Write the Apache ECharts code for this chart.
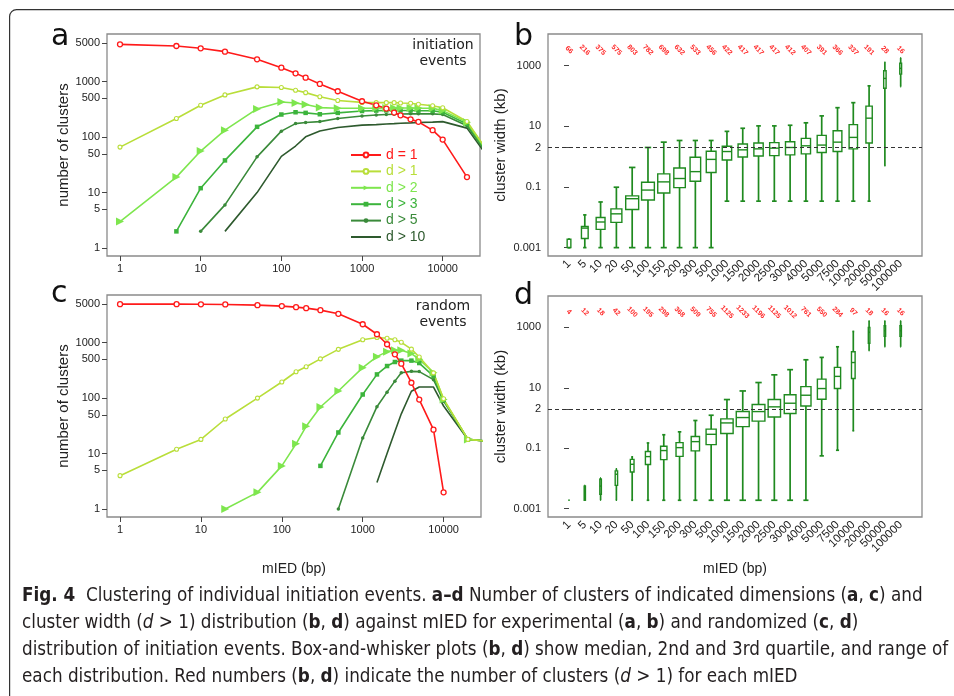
<!DOCTYPE html>
<html>
<head>
<meta charset="utf-8">
<script src="https://cdn.jsdelivr.net/npm/echarts@6/dist/echarts.min.js"></script>
<style>
html,body{margin:0;padding:0;background:#fff;}
#chart{width:954px;height:696px;}
</style>
</head>
<body>
<div id="chart"></div>
<script>
// ---------- DATA ----------
const mied = [1,5,10,20,50,100,150,200,300,500,1000,1500,2000,2500,3000,4000,5000,7500,10000,20000,50000,100000];
const miedLabels = ['1','5','10','20','50','100','150','200','300','500','1000','1500','2000','2500','3000','4000','5000','7500','10000','20000','50000','100000'];
const seriesNames = ['d = 1','d > 1','d > 2','d > 3','d > 5','d > 10'];

// panel a: experimental (initiation events)
const a_d1   = [4690,4380,3975,3460,2520,1783,1408,1178,906,669,442,374,326,276,247,209,188,133,90,19,null,null];
const a_d1p  = [66,216,375,575,803,782,698,632,533,456,422,417,417,417,412,407,391,366,337,191,28,16];
const a_d2   = [3,19,56,133,322,430,412,385,340,331,331,333,335,335,335,335,333,330,300,185,27,16];
const a_d3   = [null,2,12,38,153,255,280,273,258,273,295,300,302,302,302,302,300,298,280,172,26,15];
const a_d5   = [null,null,2,6,44,128,175,183,190,216,240,250,255,258,260,262,262,262,255,160,25,15];
const a_d10  = [null,null,null,2,10,45,69,101,129,149,164,168,172,175,178,180,183,186,190,145,23,14];

// panel c: randomized events
const c_d1   = [4930,4930,4900,4860,4730,4540,4350,4170,3840,3300,2140,1413,933,615,417,189,94,27,2,null,null,null];
const c_d1p  = [4,12,18,42,100,195,298,368,509,755,1125,1233,1196,1125,1012,761,550,284,97,18,16,16];
const c_d2   = [null,null,null,1,2,6,15,31,69,134,353,558,687,726,726,633,499,287,94,18,16,16];
const c_d3   = [null,null,null,null,null,null,null,null,6,24,116,267,378,447,473,473,428,249,92,18,16,16];
const c_d5   = [null,null,null,null,null,null,null,null,null,1,19,70,128,202,287,303,300,215,88,18,16,16];
const c_d10  = [null,null,null,null,null,null,null,null,null,null,null,3,10,25,52,133,158,158,72,18,16,16];

// panel b: cluster width (kb), experimental; counts (red numbers)
const b_counts = [66,216,375,575,803,782,698,632,533,456,422,417,417,417,412,407,391,366,337,191,28,16];
const b_min = [0.001,0.001,0.001,0.001,0.001,0.001,0.001,0.001,0.001,0.001,0.034,0.034,0.034,0.034,0.034,0.034,0.034,0.034,0.034,0.034,0.5,204];
const b_q1  = [0.001,0.002,0.004,0.0068,0.018,0.037,0.063,0.095,0.155,0.3,0.77,0.97,1.05,1.08,1.14,1.23,1.36,1.47,1.8,2.8,180,525];
const b_med = [0.001,0.0044,0.007,0.013,0.041,0.079,0.147,0.19,0.32,0.81,1.47,1.67,1.8,1.9,2.0,2.27,2.4,3.0,4.3,18.5,378,810];
const b_q3  = [0.0019,0.005,0.0098,0.019,0.051,0.143,0.27,0.42,0.95,1.5,2.2,2.6,2.8,2.9,3.1,4.0,5.0,7.1,11.3,46,680,1190];
const b_max = [0.0019,0.012,0.032,0.098,0.44,2.0,3.0,3.4,3.4,3.4,6.8,8.6,10.3,10.3,10.8,13,22,41,60,215,1290,1790];

// panel d: cluster width (kb), randomized; counts (red numbers)
const d_counts = [4,12,18,42,100,195,298,368,509,755,1125,1233,1196,1125,1012,761,550,284,97,18,16,16];
const d_min = [0.0019,0.0019,0.0019,0.0019,0.0019,0.0019,0.0019,0.0019,0.0019,0.0019,0.0019,0.0019,0.0019,0.0019,0.0019,0.0019,0.056,0.086,0.38,170,229,229];
const d_q1  = [0.0019,0.0019,0.003,0.0059,0.0164,0.029,0.042,0.054,0.082,0.132,0.31,0.52,0.79,1.09,1.41,2.5,4.2,9.5,20.4,300,507,507];
const d_med = [0.0019,0.0035,0.0056,0.0138,0.0295,0.053,0.084,0.105,0.166,0.29,0.69,1.04,1.64,2.35,3.1,5.7,9.5,24,69,690,775,775];
const d_q3  = [0.0019,0.0056,0.0094,0.0178,0.043,0.078,0.116,0.154,0.244,0.43,0.94,1.64,2.8,4.1,5.9,11,19.5,47.5,156,1000,1140,1140];
const d_max = [0.0019,0.0059,0.0104,0.021,0.052,0.15,0.28,0.35,0.83,1.24,4.1,7.9,15,27,40,85,102,229,740,1660,1660,1660];

// tick labels
const countTicks = [1,5,10,50,100,500,1000,5000];
const miedTicks  = [1,10,100,1000,10000];
const widthTicks = [0.001,0.1,2,10,1000];
const widthRef   = 2;

// ---------- STYLE ----------
const COLORS = ['#ff1a1a','#b9de3a','#7ee64e','#3cb43c','#3a8a3a','#2e5a2e'];
const GREEN = '#1f8a1f';
const FONT = "'Liberation Sans', Arial, sans-serif";
const TXT = '#222';

const chart = echarts.init(document.getElementById('chart'), null, {renderer:'canvas'});

function pairs(vals){
  return mied.map((x,i)=>[x, vals[i]]).filter(p=>p[1]!=null);
}
const symDefs = [
  {symbol:'circle', symbolSize:5, item:{color:'#fff', borderColor:COLORS[0], borderWidth:1.3}},
  {symbol:'circle', symbolSize:4, item:{color:'#fff', borderColor:COLORS[1], borderWidth:1.1}},
  {symbol:'triangle', symbolSize:8, rotate:-90, item:{color:COLORS[2]}},
  {symbol:'rect', symbolSize:4.5, item:{color:COLORS[3]}},
  {symbol:'circle', symbolSize:3.5, item:{color:COLORS[4]}},
  {symbol:'none', symbolSize:0, item:{color:COLORS[5]}}
];
function lineSeries(valsList, xi, yi){
  const order = [5,4,3,2,1,0];
  return order.map(k=>({
    type:'line', name:seriesNames[k], xAxisIndex:xi, yAxisIndex:yi,
    data:pairs(valsList[k]),
    symbol:symDefs[k].symbol, symbolSize:symDefs[k].symbolSize,
    symbolRotate:symDefs[k].rotate||0, showAllSymbol:true,
    lineStyle:{color:COLORS[k], width:1.6},
    itemStyle:symDefs[k].item,
    emphasis:{disabled:true}, animation:false, clip:true, z:3
  }));
}
function boxData(mn,q1,md,q3,mx,cnt){
  return mn.map((v,i)=>[i, v, q1[i], md[i], q3[i], mx[i], cnt[i]]);
}
function boxRender(nMax){
  return function(params, api){
    const i = api.value(0);
    const pLo = api.coord([i, api.value(1)]);
    const pQ1 = api.coord([i, api.value(2)]);
    const pMd = api.coord([i, api.value(3)]);
    const pQ3 = api.coord([i, api.value(4)]);
    const pHi = api.coord([i, api.value(5)]);
    const n = api.value(6);
    const step = api.coord([i+1, api.value(3)])[0] - pMd[0];
    const w = step*0.82*Math.sqrt(n/nMax);
    const x = pMd[0];
    const ws = {stroke:GREEN, lineWidth:1.7, fill:null};
    const bs = {stroke:GREEN, lineWidth:1.4, fill:'transparent'};
    return {type:'group', children:[
      {type:'line', shape:{x1:x,y1:pLo[1],x2:x,y2:pQ1[1]}, style:ws},
      {type:'line', shape:{x1:x,y1:pQ3[1],x2:x,y2:pHi[1]}, style:ws},
      {type:'line', shape:{x1:x-w/4,y1:pLo[1],x2:x+w/4,y2:pLo[1]}, style:ws},
      {type:'line', shape:{x1:x-w/4,y1:pHi[1],x2:x+w/4,y2:pHi[1]}, style:ws},
      {type:'rect', shape:{x:x-w/2,y:pQ3[1],width:w,height:pQ1[1]-pQ3[1]}, style:bs},
      {type:'line', shape:{x1:x-w/2,y1:pMd[1],x2:x+w/2,y2:pMd[1]}, style:bs}
    ]};
  };
}
const idxTicks = miedLabels.map((_,i)=>i);
// an extra, label-less slot after the last category keeps every real label visible
const idxTicksPadded = idxTicks.concat([miedLabels.length]);
const fmtNum = v => String(+(+v).toPrecision(6));

function logCountY(grid){
  return {type:'log', gridIndex:grid, logBase:10, min:0.72, max:7200,
    axisLine:{show:false}, splitLine:{show:false},
    axisTick:{show:true, length:5, customValues:countTicks, lineStyle:{color:'#444'}},
    axisLabel:{customValues:countTicks, formatter:fmtNum, fontSize:11, color:TXT, margin:7, fontFamily:FONT,
      showMinLabel:true, showMaxLabel:true},
    name:'number of clusters', nameLocation:'middle', nameGap:34,
    nameTextStyle:{fontSize:15, color:TXT, fontFamily:FONT}};
}
function logMiedX(grid, name){
  return {type:'log', gridIndex:grid, logBase:10, min:0.69, max:29000, position:'bottom',
    axisLine:{show:false}, splitLine:{show:false},
    axisTick:{show:true, length:5, customValues:miedTicks, lineStyle:{color:'#444'}},
    axisLabel:{customValues:miedTicks, formatter:fmtNum, fontSize:11, color:TXT, margin:7, fontFamily:FONT,
      showMinLabel:true, showMaxLabel:true},
    name:name, nameLocation:'middle', nameGap:45,
    nameTextStyle:{fontSize:14, color:TXT, fontFamily:FONT}};
}
function widthY(grid){
  return {type:'log', gridIndex:grid, logBase:10, min:0.00053, max:11000,
    axisLine:{show:false}, splitLine:{show:false},
    axisTick:{show:true, length:5, customValues:widthTicks, lineStyle:{color:'#444'}},
    axisLabel:{customValues:widthTicks, formatter:fmtNum, fontSize:11, color:TXT, margin:7, fontFamily:FONT,
      showMinLabel:true, showMaxLabel:true},
    name:'cluster width (kb)', nameLocation:'middle', nameGap:40,
    nameTextStyle:{fontSize:15, color:TXT, fontFamily:FONT}};
}
function catX(grid, name){
  return {type:'value', gridIndex:grid, min:-1.33, max:22.35, position:'bottom',
    axisLine:{show:false}, splitLine:{show:false}, axisTick:{show:false},
    axisLabel:{customValues:idxTicksPadded, formatter:v=>(miedLabels[Math.round(v)]||''), rotate:45,
      fontSize:11.5, color:TXT, margin:6, fontFamily:FONT, showMinLabel:true, showMaxLabel:false, hideOverlap:false},
    name:name, nameLocation:'middle', nameGap:45, nameMoveOverlap:false,
    nameTextStyle:{fontSize:14, color:TXT, fontFamily:FONT}};
}
function countX(grid, counts){
  return {type:'value', gridIndex:grid, min:-1.33, max:22.35, position:'top',
    axisLine:{show:false}, splitLine:{show:false}, axisTick:{show:false},
    axisLabel:{customValues:idxTicks, formatter:v=>String(counts[Math.round(v)]), rotate:45,
      inside:true, margin:16, align:'center', verticalAlign:'middle',
      showMinLabel:true, showMaxLabel:true, hideOverlap:false,
      fontSize:7, fontWeight:'bold', color:'#ff2a2a', fontFamily:FONT}};
}
const gridStyle = {show:true, borderColor:'#8a8a8a', borderWidth:1.3, backgroundColor:'transparent'};

const caption = [
  '{b|Fig. 4}  Clustering of individual initiation events. {b|a–d} Number of clusters of indicated dimensions ({b|a}, {b|c}) and',
  'cluster width ({i|d} > 1) distribution ({b|b}, {b|d}) against mIED for experimental ({b|a}, {b|b}) and randomized ({b|c}, {b|d})',
  'distribution of initiation events. Box-and-whisker plots ({b|b}, {b|d}) show median, 2nd and 3rd quartile, and range of',
  'each distribution. Red numbers ({b|b}, {b|d}) indicate the number of clusters ({i|d} > 1) for each mIED'
];
const CAPFONT = "'Liberation Sans Narrow', 'DejaVu Sans Condensed', 'Roboto Condensed', 'Liberation Sans', sans-serif";
const CAPSIZE = 18.7;

const option = {
  animation:false,
  backgroundColor:'#fff',
  textStyle:{fontFamily:FONT},
  grid:[
    Object.assign({left:107, top:34, width:373, height:222}, gridStyle),
    Object.assign({left:548, top:34, width:374, height:222}, gridStyle),
    Object.assign({left:107, top:295, width:374, height:222}, gridStyle),
    Object.assign({left:548, top:296, width:374, height:221}, gridStyle)
  ],
  xAxis:[
    logMiedX(0, ''),
    catX(1, ''),
    countX(1, b_counts),
    logMiedX(2, 'mIED (bp)'),
    catX(3, 'mIED (bp)'),
    countX(3, d_counts)
  ],
  yAxis:[ logCountY(0), widthY(1), logCountY(2), widthY(3) ],
  legend:{
    left:345, top:143, orient:'vertical', itemWidth:30, itemHeight:6, itemGap:2.4,
    selectedMode:false,
    data:seriesNames.map((n,k)=>{
      const d = {name:n, textStyle:{color:COLORS[k], fontSize:14, fontFamily:FONT}};
      if (k===5) d.itemStyle = {opacity:0};
      return d;
    })
  },
  series:[
    ...lineSeries([a_d1,a_d1p,a_d2,a_d3,a_d5,a_d10], 0, 0),
    ...lineSeries([c_d1,c_d1p,c_d2,c_d3,c_d5,c_d10], 3, 2),
    {type:'custom', xAxisIndex:1, yAxisIndex:1, renderItem:boxRender(Math.max(...b_counts)),
      data:boxData(b_min,b_q1,b_med,b_q3,b_max,b_counts), encode:{x:0, y:[1,2,3,4,5]},
      clip:true, silent:true, z:3,
      markLine:{symbol:'none', silent:true, label:{show:false}, animation:false,
        lineStyle:{type:[4,3], color:'#333', width:1.2}, data:[{yAxis:widthRef}]}},
    {type:'custom', xAxisIndex:4, yAxisIndex:3, renderItem:boxRender(Math.max(...d_counts)),
      data:boxData(d_min,d_q1,d_med,d_q3,d_max,d_counts), encode:{x:0, y:[1,2,3,4,5]},
      clip:true, silent:true, z:3,
      markLine:{symbol:'none', silent:true, label:{show:false}, animation:false,
        lineStyle:{type:[4,3], color:'#333', width:1.2}, data:[{yAxis:widthRef}]}}
  ],
  graphic:[
    {type:'rect', left:9, top:9, shape:{x:0,y:0,width:1000,height:760,r:7},
      style:{stroke:'#333', fill:'transparent', lineWidth:1.2}, silent:true, z:-1},
    {type:'text', x:51, y:37, style:{text:'a', font:"30px 'DejaVu Sans'", fill:'#111', verticalAlign:'middle'}},
    {type:'text', x:514, y:37, style:{text:'b', font:"30px 'DejaVu Sans'", fill:'#111', verticalAlign:'middle'}},
    {type:'text', x:51, y:294, style:{text:'c', font:"30px 'DejaVu Sans'", fill:'#111', verticalAlign:'middle'}},
    {type:'text', x:514, y:296, style:{text:'d', font:"30px 'DejaVu Sans'", fill:'#111', verticalAlign:'middle'}},
    {type:'text', x:443, y:37, style:{text:'initiation\nevents', font:"14px 'DejaVu Sans'", fill:'#222', align:'center', lineHeight:16}},
    {type:'text', x:443, y:298, style:{text:'random\nevents', font:"14px 'DejaVu Sans'", fill:'#222', align:'center', lineHeight:16}},
    ...caption.map((t,k)=>({type:'text', x:22, y:596+k*27, style:{
      text:t, fontFamily:CAPFONT, fontSize:CAPSIZE, fill:'#231f20', verticalAlign:'middle',
      rich:{b:{fontFamily:CAPFONT, fontSize:CAPSIZE, fontWeight:'bold', fill:'#231f20'},
            i:{fontFamily:CAPFONT, fontSize:CAPSIZE, fontStyle:'italic', fill:'#231f20'}}}}))
  ]
};
chart.setOption(option);
</script>
</body>
</html>
